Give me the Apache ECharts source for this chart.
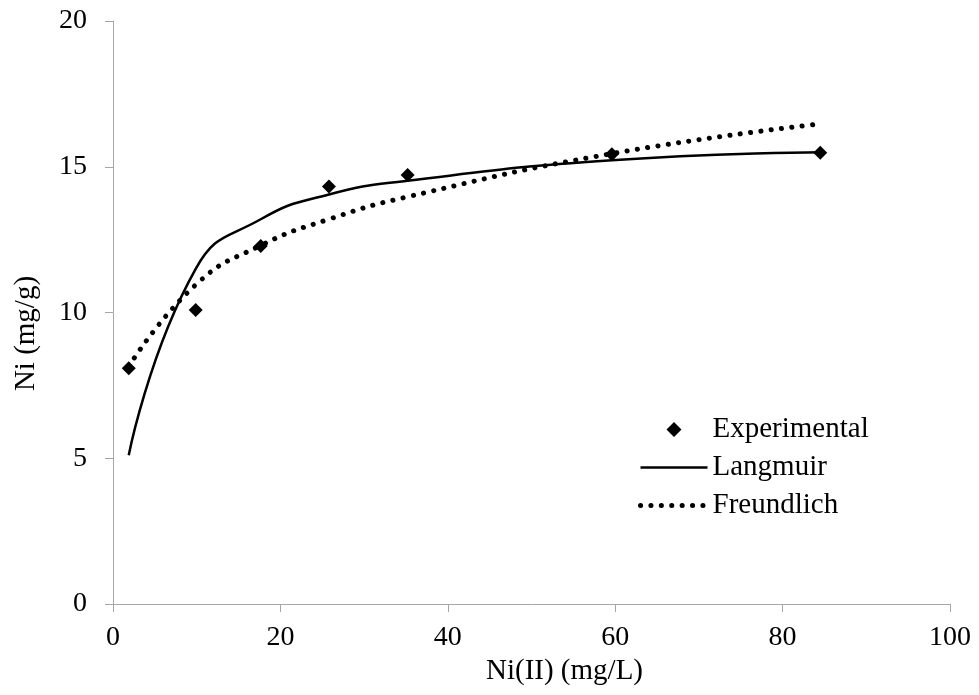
<!DOCTYPE html>
<html>
<head>
<meta charset="utf-8">
<script src="https://cdn.jsdelivr.net/npm/echarts@6/dist/echarts.min.js"></script>
<style>
  html, body { margin: 0; padding: 0; background: #fff; }
  #chart { width: 979px; height: 695px; }
</style>
</head>
<body>
<div id="chart"></div>
<script>
// concentration Ce (mg/L)
var concs = [1.88, 9.88, 17.65, 25.8, 35.2, 59.6, 84.5];
// measured uptake
var experimental = [8.09, 10.09, 12.28, 14.32, 14.72, 15.43, 15.48];
// fitted models
var langmuir = [5.1, 11.5, 13.2, 14.05, 14.52, 15.22, 15.5];
var freundlich = [8.15, 10.95, 12.3, 13.2, 13.97, 15.45, 16.47];

function pairs(ys) {
  return concs.map(function (x, i) { return [x, ys[i]]; });
}

var font = 'Liberation Serif, Times New Roman, serif';
var axisGray = '#a6a6a6';

// legend diamond kept square inside the wide legend box (tiny corner marks fix the bounds)
var diamondIcon = 'path://M0,0 L0.01,0 L0,0.01 Z M67,16 L66.99,16 L67,15.99 Z ' +
  'M33.5,0.5 L41,8 L33.5,15.5 L26,8 Z';

var myChart = echarts.init(document.getElementById('chart'));
myChart.setOption({
  animation: false,
  backgroundColor: '#fff',
  textStyle: { fontFamily: font, color: '#000' },
  grid: { left: 113, right: 29, top: 21, bottom: 91 },
  legend: {
    orient: 'vertical',
    left: 633,
    top: 410,
    itemWidth: 67,
    itemHeight: 16,
    itemGap: 9,
    textStyle: { fontFamily: font, fontSize: 29, color: '#000', lineHeight: 29 },
    data: [
      { name: 'Experimental', icon: diamondIcon, itemStyle: { color: '#000', opacity: 1 } },
      { name: 'Langmuir', itemStyle: { color: 'rgba(0,0,0,0)', borderWidth: 0 },
        lineStyle: { color: '#000', width: 2.5, type: 'solid' } },
      { name: 'Freundlich', itemStyle: { color: 'rgba(0,0,0,0)', borderWidth: 0 },
        lineStyle: { color: '#000', width: 5, type: [0.1, 10.3], cap: 'round' } }
    ]
  },
  xAxis: {
    type: 'value',
    min: 0,
    max: 100,
    interval: 20,
    name: 'Ni(II) (mg/L)',
    nameLocation: 'middle',
    nameGap: 50,
    nameTextStyle: { fontFamily: font, fontSize: 29, color: '#000', padding: [0, 0, 0, 66] },
    axisLine: { lineStyle: { color: axisGray, width: 1 } },
    axisTick: { show: true, length: 8, lineStyle: { color: axisGray } },
    axisLabel: { fontFamily: font, fontSize: 28, color: '#000', margin: 20 },
    splitLine: { show: false }
  },
  yAxis: {
    type: 'value',
    min: 0,
    max: 20,
    interval: 5,
    name: 'Ni (mg/g)',
    nameLocation: 'middle',
    nameGap: 72,
    nameRotate: 90,
    nameTextStyle: { fontFamily: font, fontSize: 29, color: '#000', padding: [0, 42, 0, 0] },
    axisLine: { show: true, lineStyle: { color: axisGray, width: 1 } },
    axisTick: { show: true, length: 8, lineStyle: { color: axisGray } },
    axisLabel: { fontFamily: font, fontSize: 28, color: '#000', margin: 26 },
    splitLine: { show: false }
  },
  series: [
    {
      name: 'Langmuir',
      type: 'line',
      data: pairs(langmuir),
      smooth: 0.5,
      showSymbol: false,
      symbol: 'none',
      lineStyle: { color: '#000', width: 2.5 },
      itemStyle: { color: '#000' },
      z: 2
    },
    {
      name: 'Freundlich',
      type: 'line',
      data: pairs(freundlich),
      smooth: 0.5,
      showSymbol: false,
      symbol: 'none',
      lineStyle: { color: '#000', width: 5, type: [0.1, 10.3], cap: 'round' },
      itemStyle: { color: '#000' },
      z: 2
    },
    {
      name: 'Experimental',
      type: 'scatter',
      data: pairs(experimental),
      symbol: 'diamond',
      symbolSize: 14,
      itemStyle: { color: '#000', opacity: 1 },
      z: 3
    }
  ]
});
</script>
</body>
</html>
